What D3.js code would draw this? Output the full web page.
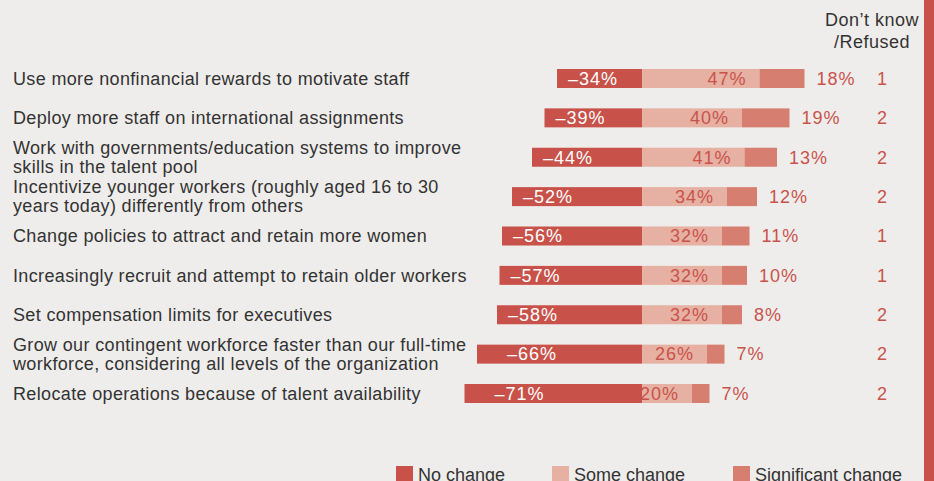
<!DOCTYPE html>
<html>
<head>
<meta charset="utf-8">
<script src="https://cdn.jsdelivr.net/npm/d3@7"></script>
<style>
  html, body { margin: 0; padding: 0; background: #efedeb; }
  svg { display: block; font-family: "Liberation Sans", Arial, Helvetica, sans-serif; }
</style>
</head>
<body>
<svg id="chart" width="934" height="481"></svg>
<script>
// Survey actions and the share of respondents reporting each degree of change
const categories = [
  ["Use more nonfinancial rewards to motivate staff"],
  ["Deploy more staff on international assignments"],
  ["Work with governments/education systems to improve", "skills in the talent pool"],
  ["Incentivize younger workers (roughly aged 16 to 30", "years today) differently from others"],
  ["Change policies to attract and retain more women"],
  ["Increasingly recruit and attempt to retain older workers"],
  ["Set compensation limits for executives"],
  ["Grow our contingent workforce faster than our full-time", "workforce, considering all levels of the organization"],
  ["Relocate operations because of talent availability"]
];
const noChange     = [34, 39, 44, 52, 56, 57, 58, 66, 71];
const someChange   = [47, 40, 41, 34, 32, 32, 32, 26, 20];
const significant  = [18, 19, 13, 12, 11, 10, 8, 7, 7];
const dontKnow     = [1, 2, 2, 2, 1, 1, 2, 2, 2];
const seriesNames  = ["No change", "Some change", "Significant change"];
const headerLines  = ["Don\u2019t know", "/Refused"];

const W = 934, H = 481;
const colors = { no: "#c8524a", some: "#e6b0a2", sig: "#d67f70", text: "#333333", value: "#c9534b" };

const svg = d3.select("#chart");
svg.append("rect").attr("width", W).attr("height", H).attr("fill", "#efedeb");
// accent band on the right edge
svg.append("rect").attr("x", 924).attr("y", 0).attr("width", 10).attr("height", H).attr("fill", colors.no);

const idx = categories.map((_, i) => i);
const x = d3.scaleLinear().domain([-100, 100]).range([392, 892]);
const y = d3.scalePoint().domain(idx).range([78.5, 393.5]);
const barH = 19;

const rows = svg.append("g").selectAll("g").data(idx).join("g")
  .attr("transform", i => `translate(0,${y(i)})`);

// category labels
rows.append("text")
  .attr("x", 13)
  .attr("fill", colors.text)
  .attr("font-size", 18)
  .attr("letter-spacing", 0.35)
  .each(function (i) {
    const lines = categories[i];
    const t = d3.select(this);
    const lh = 19;
    lines.forEach((ln, k) => {
      t.append("tspan")
        .attr("x", 13)
        .attr("y", (k - (lines.length - 1) / 2) * lh)
        .attr("dy", "0.35em")
        .text(ln);
    });
  });

// stacked bars
rows.append("rect")
  .attr("x", i => x(-noChange[i])).attr("y", -barH / 2)
  .attr("width", i => x(0) - x(-noChange[i])).attr("height", barH)
  .attr("fill", colors.no);
rows.append("rect")
  .attr("x", x(0)).attr("y", -barH / 2)
  .attr("width", i => x(someChange[i]) - x(0)).attr("height", barH)
  .attr("fill", colors.some);
rows.append("rect")
  .attr("x", i => x(someChange[i])).attr("y", -barH / 2)
  .attr("width", i => x(someChange[i] + significant[i]) - x(someChange[i])).attr("height", barH)
  .attr("fill", colors.sig);

// value labels
const valSize = 18, valSpacing = 1;
rows.append("text")
  .attr("x", i => x(-noChange[i]) + (noChange[i] > 60 ? 30 : 11))
  .attr("dy", "0.35em").attr("font-size", valSize).attr("letter-spacing", valSpacing).attr("fill", "#ffffff")
  .text(i => "\u2013" + noChange[i] + "%");
rows.append("text")
  .attr("x", i => x(someChange[i]) - 13)
  .attr("text-anchor", "end")
  .attr("dy", "0.35em").attr("font-size", valSize).attr("letter-spacing", valSpacing).attr("fill", colors.value)
  .text(i => someChange[i] + "%");
rows.append("text")
  .attr("x", i => x(someChange[i] + significant[i]) + 12)
  .attr("dy", "0.35em").attr("font-size", valSize).attr("letter-spacing", valSpacing).attr("fill", colors.value)
  .text(i => significant[i] + "%");
rows.append("text")
  .attr("x", 882)
  .attr("text-anchor", "middle")
  .attr("dy", "0.35em").attr("font-size", valSize).attr("fill", colors.value)
  .text(i => dontKnow[i]);

// column header
svg.append("text")
  .attr("text-anchor", "middle").attr("font-size", 18).attr("letter-spacing", 0.5).attr("fill", colors.text)
  .selectAll("tspan").data(headerLines).join("tspan")
  .attr("x", 872).attr("y", (d, k) => 20 + k * 22).attr("dy", "0.35em")
  .text(d => d);

// legend
const legendX = [396, 552, 733];
const legendColors = [colors.no, colors.some, colors.sig];
const lg = svg.append("g").selectAll("g").data(seriesNames).join("g")
  .attr("transform", (d, k) => `translate(${legendX[k]},466)`);
lg.append("rect").attr("width", 17).attr("height", 17).attr("fill", (d, k) => legendColors[k]);
lg.append("text").attr("x", 22).attr("y", 14.5).attr("font-size", 18).attr("fill", colors.text)
  .text(d => d);
</script>
</body>
</html>
